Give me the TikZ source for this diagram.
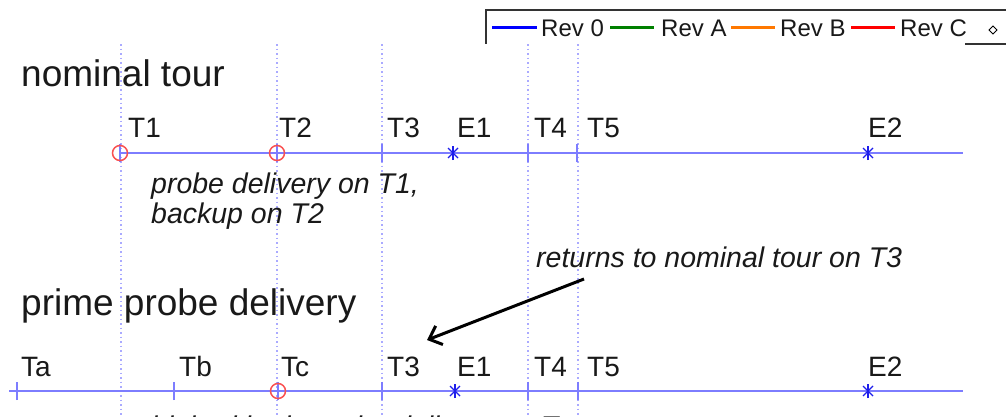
\documentclass[tikz,border=0pt]{standalone}
\usepackage{fontspec}
\setmainfont{Liberation Sans}
\usetikzlibrary{arrows.meta}
\definecolor{tlc}{RGB}{125,125,255}
\definecolor{dotc}{RGB}{170,170,255}
\definecolor{starc}{RGB}{30,30,235}
\definecolor{ringc}{RGB}{250,80,80}
\definecolor{revzero}{RGB}{0,0,255}
\definecolor{reva}{RGB}{0,128,0}
\definecolor{revb}{RGB}{255,120,0}
\definecolor{revc}{RGB}{255,0,0}
\definecolor{txt}{RGB}{25,25,25}
\begin{document}
\begin{tikzpicture}[x=1pt,y=-1pt,
  lbl/.style={font=\fontsize{28}{30}\selectfont, anchor=base west, inner sep=0pt, text=txt},
  ttl/.style={font=\fontsize{37}{40}\selectfont, anchor=base west, inner sep=0pt, text=txt},
  note/.style={font=\fontsize{28.5}{30}\selectfont\itshape, anchor=base west, inner sep=0pt, text=txt},
  leg/.style={font=\fontsize{24}{26}\selectfont, anchor=base west, inner sep=0pt, text=txt},
  timeline/.style={draw=tlc, line width=2.2pt},
  tickm/.style={draw=tlc, line width=1.6pt},
  ringm/.style={draw=ringc, line width=1.5pt},
  starm/.style={draw=starc, line width=1.3pt},
  vgrid/.style={draw=dotc, line width=1.5pt, dash pattern=on 1.5pt off 3pt},
  legline/.style={line width=3pt},
  frame/.style={draw=black!80, line width=1.3pt},
  pointer/.style={draw=black, line width=3pt, -{Straight Barb[length=11pt,width=20pt,line width=3pt]}}
]
\useasboundingbox (0,0) rectangle (1006,416);
\clip (0,0) rectangle (1006,416);
\fill[white] (0,0) rectangle (1006,416);

% dotted vertical grid lines
\foreach \x in {121,277,382,528,578}
  \draw[vgrid] (\x,44) -- (\x,416);

% legend
\draw[frame] (1006,10) -- (486,10) -- (486,44);
\draw[frame] (965,44) -- (1006,44);
\coordinate (l0a) at (492,27); \coordinate (l0b) at (537,27);
\coordinate (laa) at (610,27); \coordinate (lab) at (654,27);
\coordinate (lba) at (731,27); \coordinate (lbb) at (775,27);
\coordinate (lca) at (851,27); \coordinate (lcb) at (895,27);
\draw[legline, revzero] (l0a) -- (l0b);
\draw[legline, reva] (laa) -- (lab);
\draw[legline, revb] (lba) -- (lbb);
\draw[legline, revc] (lca) -- (lcb);
\node[leg] (leg0) at (541,36) {Rev 0};
\node[leg] (lega) at (661,36) {Rev A};
\node[leg] (legb) at (780,36) {Rev B};
\node[leg] (legc) at (900,36) {Rev C};
\coordinate (dm) at (993,30);
\draw[black, line width=1pt] ([xshift=-4pt]dm) -- ([yshift=4pt]dm) -- ([xshift=4pt]dm) -- ([yshift=-4pt]dm) -- cycle;

% titles
\node[ttl] (tnom) at (21,86) {nominal tour};
\node[ttl] (tprime) at (21,315) {prime probe delivery};

% nominal tour timeline
\coordinate (n1) at (120,153);
\coordinate (n2) at (277,153);
\coordinate (n3) at (382,153);
\coordinate (e1) at (453,153);
\coordinate (n4) at (528,153);
\coordinate (n5) at (577,153);
\coordinate (e2) at (868,153);
\coordinate (nend) at (963,153);
\draw[timeline] (n1) -- (nend);
\foreach \p in {n1,n2,n3,n4,n5}
  \draw[tickm] ([yshift=-9pt]\p) -- ([yshift=9pt]\p);
\foreach \p in {n1,n2}
  \draw[ringm] (\p) circle[radius=7.5pt];
\foreach \p in {e1,e2}{
  \draw[starm] ([yshift=-7pt]\p) -- ([yshift=7pt]\p);
  \draw[starm] ([shift={(-5pt,-5pt)}]\p) -- ([shift={(5pt,5pt)}]\p);
  \draw[starm] ([shift={(-5pt,5pt)}]\p) -- ([shift={(5pt,-5pt)}]\p);
}
\node[lbl] (lt1) at (128,137) {T1};
\node[lbl] (lt2) at (279,137) {T2};
\node[lbl] (lt3) at (387,137) {T3};
\node[lbl] (le1) at (457,137) {E1};
\node[lbl] (lt4) at (534,137) {T4};
\node[lbl] (lt5) at (587,137) {T5};
\node[lbl] (le2) at (868,137) {E2};

\node[note] (pd1) at (151,193) {probe delivery on T1,};
\node[note] (pd2) at (151,223) {backup on T2};

% return note and arrow
\node[note] (ret) at (536,267) {returns to nominal tour on T3};
\coordinate (arrtail) at (584,279);
\coordinate (arrtip) at (427,340);
\draw[pointer] (arrtail) -- (arrtip);

% prime probe delivery timeline
\coordinate (pstart) at (9,391);
\coordinate (p1) at (17,391);
\coordinate (p2) at (174,391);
\coordinate (p3) at (278,391);
\coordinate (p4) at (382,391);
\coordinate (f1) at (455,391);
\coordinate (p5) at (528,391);
\coordinate (p6) at (578,391);
\coordinate (f2) at (868,391);
\coordinate (pend) at (963,391);
\draw[timeline] (pstart) -- (pend);
\foreach \p in {p1,p2,p3,p4,p5,p6}
  \draw[tickm] ([yshift=-9pt]\p) -- ([yshift=9pt]\p);
\draw[ringm] (p3) circle[radius=7.5pt];
\foreach \p in {f1,f2}{
  \draw[starm] ([yshift=-7pt]\p) -- ([yshift=7pt]\p);
  \draw[starm] ([shift={(-5pt,-5pt)}]\p) -- ([shift={(5pt,5pt)}]\p);
  \draw[starm] ([shift={(-5pt,5pt)}]\p) -- ([shift={(5pt,-5pt)}]\p);
}
\node[lbl] (lta) at (21,376) {Ta};
\node[lbl] (ltb) at (179,376) {Tb};
\node[lbl] (ltc) at (281,376) {Tc};
\node[lbl] (lt3b) at (387,376) {T3};
\node[lbl] (le1b) at (457,376) {E1};
\node[lbl] (lt4b) at (534,376) {T4};
\node[lbl] (lt5b) at (587,376) {T5};
\node[lbl] (le2b) at (868,376) {E2};

\node[note] (hapd) at (151,436) {high-altitude probe delivery on Tc};
\end{tikzpicture}
\end{document}
